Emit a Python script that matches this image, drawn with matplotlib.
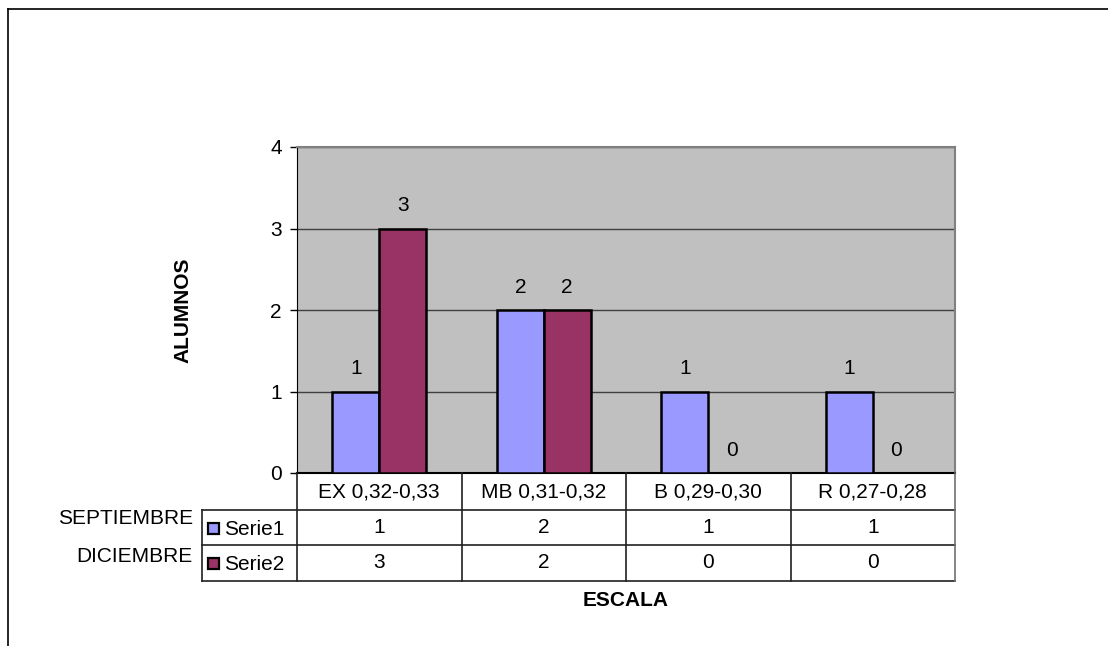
import matplotlib
matplotlib.use("Agg")
import matplotlib.pyplot as plt
from matplotlib.patches import Rectangle
from matplotlib.lines import Line2D
import numpy as np

plt.rcParams['font.family'] = ['Liberation Sans', 'DejaVu Sans']

# Data
categories = ["EX 0,32-0,33", "MB 0,31-0,32", "B 0,29-0,30", "R 0,27-0,28"]
series_names = ["Serie1", "Serie2"]
row_labels = ["SEPTIEMBRE", "DICIEMBRE"]
serie1 = [1, 2, 1, 1]
serie2 = [3, 2, 0, 0]
y_ticks = [0, 1, 2, 3, 4]

W, H = 1108, 646
FS = 15
fig = plt.figure(figsize=(W / 100, H / 100), dpi=100)


def fx(px):
    return px / W


def fy(py):
    return 1 - py / H


# Outer chart frame (top and left edges)
fig.add_artist(Line2D([fx(8), fx(8)], [fy(9), fy(H + 5)], color='black', lw=1.2))
fig.add_artist(Line2D([fx(8), fx(W + 5)], [fy(9), fy(9)], color='black', lw=1.2))

# Plot area
left_px, right_px, top_px, bot_px = 297, 955, 147, 473
ax = fig.add_axes([fx(left_px), fy(bot_px), fx(right_px - left_px), (bot_px - top_px) / H])
ax.set_facecolor('#C0C0C0')
ax.set_xlim(-0.5, len(categories) - 0.5)
ax.set_ylim(0, 4)

colors = ['#9999FF', '#993366']
x = np.arange(len(categories))
w = 1 / 3.5
for i, (vals, col) in enumerate(zip([serie1, serie2], colors)):
    offs = (i - 0.5) * w
    ax.bar(x + offs, vals, width=w, color=col, edgecolor='black', linewidth=1.8, zorder=3)
    for xi, v in zip(x, vals):
        ax.annotate(str(v), (xi + offs, v), xytext=(0, 16.5), textcoords='offset points',
                    ha='center', va='center', fontsize=FS, zorder=4)

ax.set_yticks(y_ticks)
ax.yaxis.grid(True, color='#404040', linewidth=1.0, zorder=1)
ax.set_axisbelow(True)
ax.tick_params(axis='y', direction='out', length=5, width=1, labelsize=FS, pad=6)
ax.tick_params(axis='x', bottom=False, labelbottom=False)
for side in ['top', 'right']:
    ax.spines[side].set_color('#808080')
    ax.spines[side].set_linewidth(1.5)
ax.spines['left'].set_color('black')
ax.spines['bottom'].set_color('black')
ax.spines['bottom'].set_linewidth(1.5)

fig.text(fx(183), fy(310), "ALUMNOS", rotation=90, ha='center', va='center',
         fontsize=FS, fontweight='bold')

# Data table beneath the axis
col_edges = np.linspace(left_px, right_px, len(categories) + 1)
leg_left = 202
row_y = [473, 510, 545, 581]
dark = '#202020'
grey = '#707070'

# Horizontal rules
for yr in row_y[1:]:
    fig.add_artist(Line2D([fx(leg_left), fx(right_px)], [fy(yr), fy(yr)], color=dark, lw=1.2))
# Vertical rules
fig.add_artist(Line2D([fx(leg_left), fx(leg_left)], [fy(row_y[1]), fy(row_y[3])], color=dark, lw=1.2))
for i, xe in enumerate(col_edges):
    c = grey if i == len(col_edges) - 1 else dark
    fig.add_artist(Line2D([fx(xe), fx(xe)], [fy(row_y[0]), fy(row_y[3])], color=c, lw=1.2))

# Header: category names
for j, cat in enumerate(categories):
    cx = (col_edges[j] + col_edges[j + 1]) / 2
    fig.text(fx(cx), fy((row_y[0] + row_y[1]) / 2 + 1), cat, ha='center', va='center', fontsize=FS)

# Series rows
lab_shift = [-9.5, -7]
for r, (name, vals, col, lab) in enumerate(zip(series_names, [serie1, serie2], colors, row_labels)):
    ymid = (row_y[r + 1] + row_y[r + 2]) / 2
    fig.add_artist(Rectangle((fx(208), fy(ymid + 6)), fx(11), 11 / H,
                             facecolor=col, edgecolor='black', lw=1.6))
    fig.text(fx(224), fy(ymid + 2), name, ha='left', va='center', fontsize=FS)
    for j, v in enumerate(vals):
        cx = (col_edges[j] + col_edges[j + 1]) / 2
        fig.text(fx(cx), fy(ymid), str(v), ha='center', va='center', fontsize=FS)
    fig.text(fx(193), fy(ymid + lab_shift[r]), lab, ha='right', va='center', fontsize=FS)

fig.text(fx(626), fy(601), "ESCALA", ha='center', va='center', fontsize=FS, fontweight='bold')

fig.savefig("out.png", dpi=100, facecolor='white')
